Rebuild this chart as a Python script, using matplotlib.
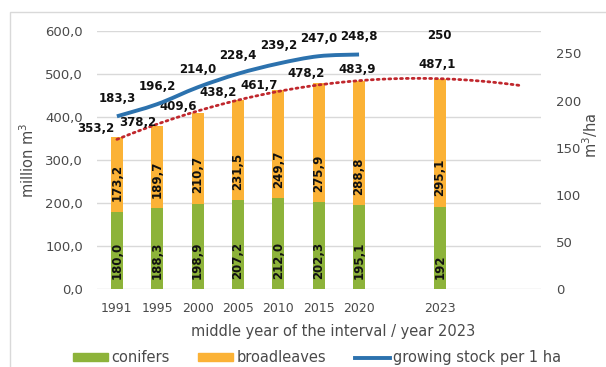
import numpy as np
import matplotlib
matplotlib.use("Agg")
import matplotlib.pyplot as plt
from matplotlib.path import Path
from matplotlib.patches import PathPatch, Patch, Rectangle
from matplotlib.lines import Line2D

# categories on the x axis, empty strings are gaps in the series
years = ["1991", "1995", "2000", "2005", "2010", "2015", "2020", "", "2023", "", ""]
conifers = [180.0, 188.3, 198.9, 207.2, 212.0, 202.3, 195.1, None, 192.0, None, None]
broadleaves = [173.2, 189.7, 210.7, 231.5, 249.7, 275.9, 288.8, None, 295.1, None, None]
totals = [353.2, 378.2, 409.6, 438.2, 461.7, 478.2, 483.9, None, 487.1, None, None]
stock_per_ha = [183.3, 196.2, 214.0, 228.4, 239.2, 247.0, 248.8, None, 250.0, None, None]

# centre offsets for the total volume labels (points)
total_offsets = [(-15, 6.5), (-14, 2.6), (-14, 4.2), (-14.4, 5.4), (-13.7, 3.8),
                 (-9.4, 7.2), (-1.4, 8.4), None, (-1.8, 11), None, None]

GREEN = "#8DB33A"
ORANGE = "#FBB236"
BLUE = "#2C72AE"
RED = "#C0272D"
GRID = "#D9D9D9"
TICK = "#4A4A4A"
LABEL_SIZE = 8.5


def fmt(v, dec=1):
    return f"{v:.{dec}f}".replace(".", ",")


fig = plt.figure(figsize=(6.06, 3.67), dpi=100)
ax = fig.add_axes([0.1596, 0.2117, 0.7326, 0.7046])
ax2 = ax.twinx()

x = np.arange(len(years))
idx = [i for i, v in enumerate(conifers) if v is not None]
con = np.array([conifers[i] for i in idx])
brd = np.array([broadleaves[i] for i in idx])

ax.bar(x[idx], con, width=0.3, color=GREEN, zorder=2)
ax.bar(x[idx], brd, width=0.3, bottom=con, color=ORANGE, zorder=2)

# rotated labels sitting at the base of each segment
for i, c, b in zip(idx, con, brd):
    lab = fmt(c) if i < 8 else fmt(c, 0)
    ax.annotate(lab, (i, 0), xytext=(0, 7.5), textcoords="offset points",
                rotation=90, ha="center", va="bottom", fontsize=LABEL_SIZE,
                fontweight="bold", color="#111111", zorder=4)
    ax.annotate(fmt(b), (i, c), xytext=(0, 7.5), textcoords="offset points",
                rotation=90, ha="center", va="bottom", fontsize=LABEL_SIZE,
                fontweight="bold", color="#111111", zorder=4)

# polynomial trend of the totals, extended two periods forward
tx = np.array([i for i, v in enumerate(totals) if v is not None], dtype=float)
ty = np.array([v for v in totals if v is not None])
coef = np.polyfit(tx, ty, 2)
xs = np.linspace(0, 10, 200)
ax.plot(xs, np.polyval(coef, xs), color=RED, lw=2, linestyle=(0, (0.7, 1.4)),
        dash_capstyle="round", zorder=3)

for i, v in enumerate(totals):
    if v is None:
        continue
    dx, dy = total_offsets[i]
    ax.annotate(fmt(v), (i, v), xytext=(dx, dy), textcoords="offset points",
                ha="center", va="center", fontsize=LABEL_SIZE, fontweight="bold",
                color="#111111", zorder=5)

# smoothed growing stock line (first contiguous run only)
run = []
for i, v in enumerate(stock_per_ha):
    if v is None:
        break
    run.append((i, v))
pts = np.array(run, dtype=float)
verts = [tuple(pts[0])]
codes = [Path.MOVETO]
n = len(pts)
for k in range(n - 1):
    p0 = pts[max(k - 1, 0)]
    p1 = pts[k]
    p2 = pts[k + 1]
    p3 = pts[min(k + 2, n - 1)]
    c1 = p1 + (p2 - p0) / 6
    c2 = p2 - (p3 - p1) / 6
    verts += [tuple(c1), tuple(c2), tuple(p2)]
    codes += [Path.CURVE4] * 3
ax2.add_patch(PathPatch(Path(verts, codes), facecolor="none", edgecolor=BLUE,
                        lw=2.8, capstyle="butt", zorder=3))

for i, v in enumerate(stock_per_ha):
    if v is None:
        continue
    lab = fmt(v) if i < 8 else fmt(v, 0)
    ax2.annotate(lab, (i, v), xytext=(0, 13), textcoords="offset points",
                 ha="center", va="center", fontsize=LABEL_SIZE, fontweight="bold",
                 color="#111111", zorder=5)

ax.set_xlim(-0.5, len(years) - 0.5)
ax.set_ylim(0, 600)
ax2.set_ylim(0, 274)
ax.set_yticks(np.arange(0, 601, 100))
ax.set_yticklabels([fmt(v) for v in np.arange(0, 601, 100)])
ax2.set_yticks(np.arange(0, 251, 50))
ax2.set_yticklabels([str(v) for v in np.arange(0, 251, 50)])
tick_pos = [i for i, y in enumerate(years) if y]
ax.set_xticks(tick_pos)
ax.set_xticklabels([years[i] for i in tick_pos])

ax.grid(axis="y", color=GRID, lw=1, zorder=0)
ax.set_axisbelow(True)
for a in (ax, ax2):
    for s in a.spines.values():
        s.set_visible(False)
ax.tick_params(axis="both", length=0, colors=TICK)
ax.tick_params(axis="y", labelsize=9.5, pad=10)
ax.tick_params(axis="x", labelsize=9, pad=9)
ax2.tick_params(axis="y", length=0, colors=TICK, labelsize=9.5, pad=11)

fig.text(333 / 606, 1 - 331.7 / 367, "middle year of the interval / year 2023",
         ha="center", va="center", fontsize=10.5, color=TICK)
fig.text(28 / 606, 1 - 160 / 367, "million m$^3$", rotation=90,
         ha="center", va="center", fontsize=10.5, color=TICK)
fig.text(590 / 606, 1 - 135 / 367, "m$^3$/ha", rotation=90,
         ha="center", va="center", fontsize=10.5, color=TICK)

handles = [Patch(color=GREEN), Patch(color=ORANGE), Line2D([], [], color=BLUE, lw=2.8)]
fig.legend(handles, ["conifers", "broadleaves", "growing stock per 1 ha"],
           loc="center", bbox_to_anchor=(317 / 606, 1 - 357.7 / 367), ncol=3,
           frameon=False, fontsize=10.5, handlelength=2.4, handleheight=0.5,
           handletextpad=0.2, columnspacing=2.0, labelcolor=TICK)

fig.patches.append(Rectangle((10 / 606, -0.05), 1.0, 1.05 - 12 / 367,
                             transform=fig.transFigure, fill=False,
                             edgecolor=GRID, lw=1))

fig.savefig("out.png", dpi=100)
